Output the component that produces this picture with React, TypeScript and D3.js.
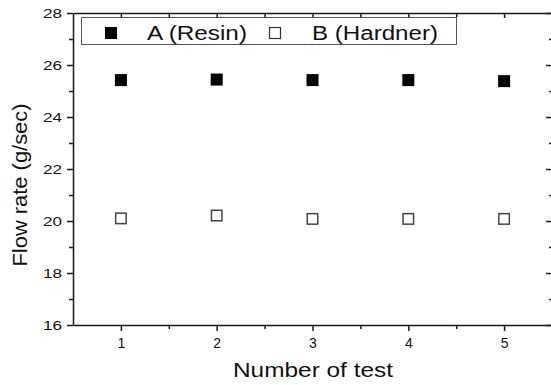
import * as d3 from "d3";
import React, { useRef, useEffect } from "react";

const tests: number[] = [1, 2, 3, 4, 5];
const resin: number[] = [25.42, 25.44, 25.42, 25.42, 25.38];
const hardner: number[] = [20.1, 20.21, 20.08, 20.08, 20.08];
const yTicks: number[] = [16, 18, 20, 22, 24, 26, 28];
const yMinor: number[] = [17, 19, 21, 23, 25, 27];
const xMinor: number[] = [1.5, 2.5, 3.5, 4.5];
const seriesNames: string[] = ["A (Resin)", "B (Hardner)"];

const App: React.FC = () => {
  const svgRef = useRef<SVGSVGElement>(null);

  useEffect(() => {
    const svg = d3.select(svgRef.current);
    svg.selectAll("*").remove();

    const width = 551;
    const height = 385;
    const left = 73;
    const right = 552;
    const top = 13;
    const bottom = 325;
    const font = "'Liberation Sans', Arial, sans-serif";
    const ink = "#1a1a1a";

    const x = d3.scaleLinear().domain([0.5, 5.5]).range([left, right]);
    const y = d3.scaleLinear().domain([16, 28]).range([bottom, top]);

    svg.attr("width", width).attr("height", height)
      .attr("viewBox", `0 0 ${width} ${height}`)
      .style("font-family", font);

    const styleAxis = (g: d3.Selection<SVGGElement, unknown, null, undefined>) => {
      g.attr("font-family", font);
      g.select(".domain").attr("stroke", ink).attr("stroke-width", 1.5);
      g.selectAll(".tick line").attr("stroke", ink).attr("stroke-width", 1.5);
      g.selectAll(".tick text").attr("fill", "#111");
    };

    // left axis
    svg.append("g")
      .attr("transform", `translate(${left},0)`)
      .call(d3.axisLeft(y).tickValues(yTicks).tickSize(6).tickSizeOuter(0).tickPadding(5).tickFormat(d3.format("d")))
      .call(styleAxis)
      .call(g => g.selectAll(".tick text")
        .attr("font-size", 13)
        .attr("textLength", 19)
        .attr("lengthAdjust", "spacingAndGlyphs"));
    svg.append("g")
      .attr("transform", `translate(${left},0)`)
      .call(d3.axisLeft(y).tickValues(yMinor).tickSize(4).tickFormat(() => ""))
      .call(styleAxis)
      .call(g => g.select(".domain").remove());

    // right axis (inward ticks)
    svg.append("g")
      .attr("transform", `translate(${right},0)`)
      .call(d3.axisRight(y).tickValues(yTicks).tickSize(-6).tickSizeOuter(0).tickFormat(() => ""))
      .call(styleAxis);
    svg.append("g")
      .attr("transform", `translate(${right},0)`)
      .call(d3.axisRight(y).tickValues(yMinor).tickSize(-3).tickFormat(() => ""))
      .call(styleAxis)
      .call(g => g.select(".domain").remove());

    // bottom axis
    svg.append("g")
      .attr("transform", `translate(0,${bottom})`)
      .call(d3.axisBottom(x).tickValues(tests).tickSize(6).tickSizeOuter(0).tickPadding(7).tickFormat(d3.format("d")))
      .call(styleAxis)
      .call(g => g.selectAll(".tick text").attr("font-size", 14));
    svg.append("g")
      .attr("transform", `translate(0,${bottom})`)
      .call(d3.axisBottom(x).tickValues(xMinor).tickSize(4).tickFormat(() => ""))
      .call(styleAxis)
      .call(g => g.select(".domain").remove());

    // top axis (inward ticks)
    svg.append("g")
      .attr("transform", `translate(0,${top})`)
      .call(d3.axisTop(x).tickValues(tests).tickSize(-5).tickSizeOuter(0).tickFormat(() => ""))
      .call(styleAxis);
    svg.append("g")
      .attr("transform", `translate(0,${top})`)
      .call(d3.axisTop(x).tickValues(xMinor).tickSize(-4).tickFormat(() => ""))
      .call(styleAxis)
      .call(g => g.select(".domain").remove());

    // axis titles
    svg.append("text")
      .attr("x", 313)
      .attr("y", 377)
      .attr("text-anchor", "middle")
      .attr("font-size", 20)
      .attr("textLength", 160)
      .attr("lengthAdjust", "spacingAndGlyphs")
      .attr("fill", "#111")
      .text("Number of test");

    svg.append("text")
      .attr("transform", "translate(27,185) rotate(-90)")
      .attr("text-anchor", "middle")
      .attr("font-size", 21)
      .attr("textLength", 163)
      .attr("lengthAdjust", "spacingAndGlyphs")
      .attr("fill", "#111")
      .text("Flow rate (g/sec)");

    const size = 12;

    // series A: filled squares
    svg.append("g")
      .selectAll("rect")
      .data(tests)
      .join("rect")
      .attr("x", (d) => x(d) - size / 2)
      .attr("y", (_d, i) => y(resin[i]) - size / 2)
      .attr("width", size)
      .attr("height", size)
      .attr("fill", "#000");

    // series B: open squares
    svg.append("g")
      .selectAll("rect")
      .data(tests)
      .join("rect")
      .attr("x", (d) => x(d) - (size - 1.5) / 2)
      .attr("y", (_d, i) => y(hardner[i]) - (size - 1.5) / 2)
      .attr("width", size - 1.5)
      .attr("height", size - 1.5)
      .attr("fill", "#fff")
      .attr("stroke", "#444")
      .attr("stroke-width", 1.5);

    // legend
    const legend = svg.append("g");
    legend.append("rect")
      .attr("x", 81.5)
      .attr("y", 17.5)
      .attr("width", 375)
      .attr("height", 27)
      .attr("fill", "#fff")
      .attr("stroke", "#555")
      .attr("stroke-width", 1);
    legend.append("rect")
      .attr("x", 105).attr("y", 27)
      .attr("width", 12).attr("height", 12)
      .attr("fill", "#000");
    legend.append("text")
      .attr("x", 147).attr("y", 40)
      .attr("font-size", 19.5)
      .attr("textLength", 100)
      .attr("lengthAdjust", "spacingAndGlyphs")
      .attr("fill", "#111")
      .text(seriesNames[0]);
    legend.append("rect")
      .attr("x", 269.5).attr("y", 27.5)
      .attr("width", 11).attr("height", 11)
      .attr("fill", "#fff")
      .attr("stroke", "#333")
      .attr("stroke-width", 1.2);
    legend.append("text")
      .attr("x", 312).attr("y", 40)
      .attr("font-size", 19.5)
      .attr("textLength", 126)
      .attr("lengthAdjust", "spacingAndGlyphs")
      .attr("fill", "#111")
      .text(seriesNames[1]);
  }, []);

  return (
    <svg ref={svgRef} style={{ position: "absolute", left: 0, top: 0, background: "#fff" }}></svg>
  );
};

export default App;
